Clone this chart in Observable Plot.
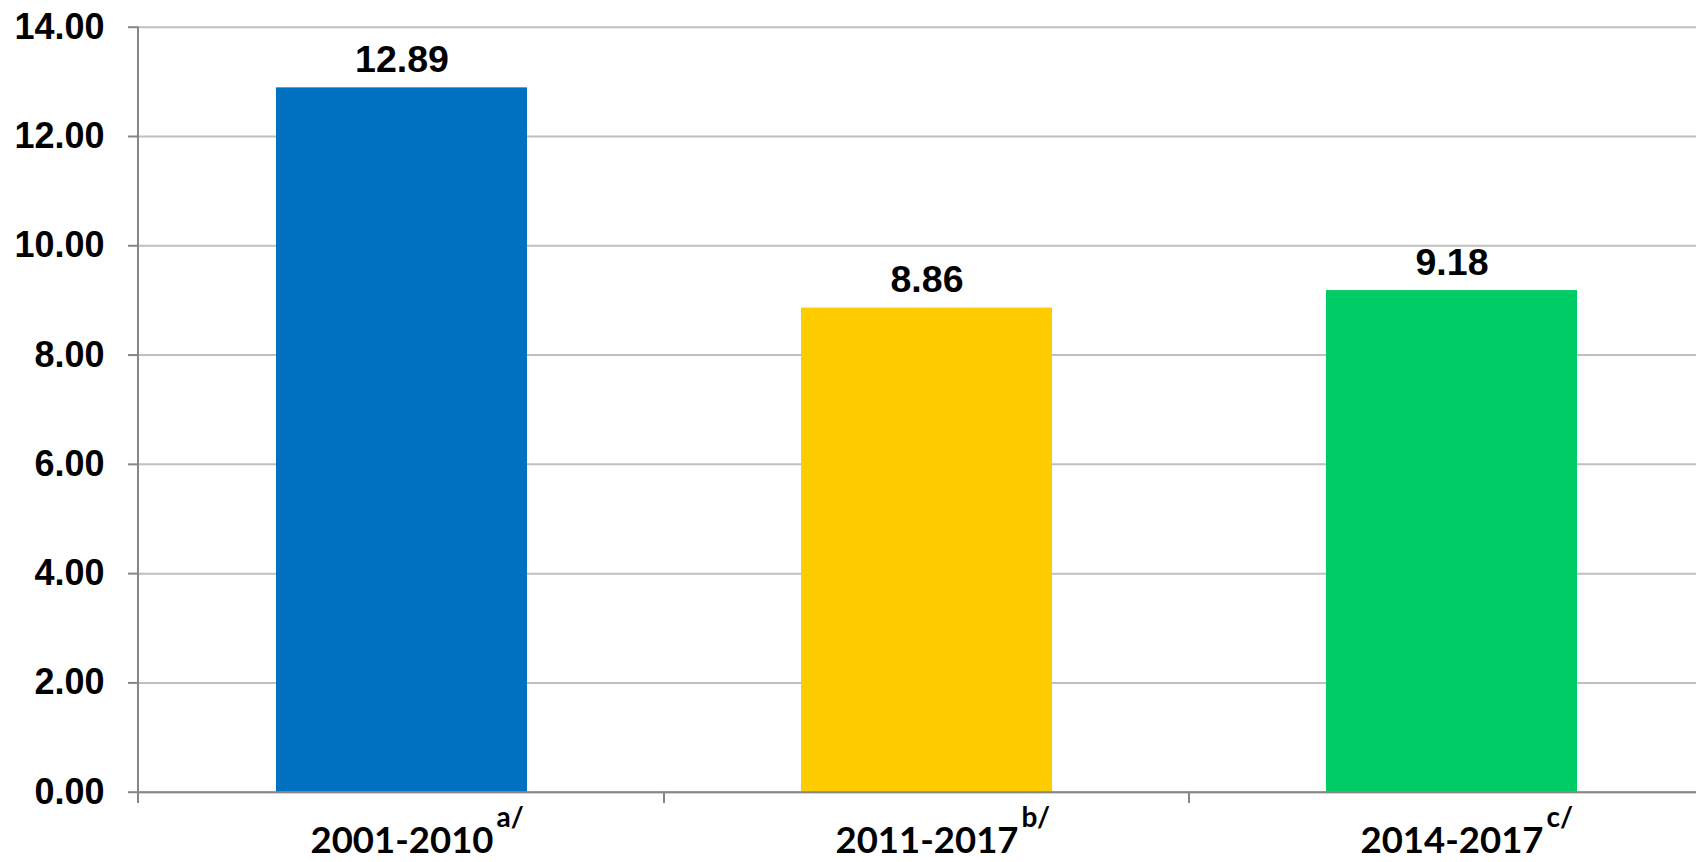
<!DOCTYPE html>
<html><head><meta charset="utf-8">
<script src="https://cdn.jsdelivr.net/npm/d3@7"></script>
<script src="https://cdn.jsdelivr.net/npm/@observablehq/plot@0.6"></script>
<style>
html,body{margin:0;padding:0;background:#fff;overflow:hidden;width:1696px;height:862px}
#chart{width:1696px;height:862px;overflow:hidden}
#chart svg{display:block;max-width:none !important;height:862px !important}
</style></head><body><div id="chart"></div>
<script>
const categories = ["2001-2010", "2011-2017", "2014-2017"];
const notes = ["a/", "b/", "c/"];
const values = [12.89, 8.86, 9.18];
const colors = ["#0070C0", "#FFCC00", "#00CC66"];
const yTicks = [0, 2, 4, 6, 8, 10, 12, 14];

const data = categories.map((c, i) => ({category: c, note: notes[i], value: values[i], color: colors[i]}));

const AX = "#868686";
const plot = Plot.plot({
  width: 1715, height: 862,
  marginLeft: 138, marginRight: 0, marginTop: 26.7, marginBottom: 70.3,
  style: {background: "white", color: "black", overflow: "visible", maxWidth: "none"},
  x: {domain: categories, paddingInner: 0.5225, paddingOuter: 0.26125, axis: null},
  y: {domain: [0, 14], axis: null},
  color: {type: "identity"},
  marks: [
    Plot.gridY(yTicks, {stroke: "#BFBFBF", strokeOpacity: 1, strokeWidth: 2}),
    Plot.barY(data, {x: "category", y: "value", fill: "color"}),
    Plot.ruleY([0], {stroke: AX, strokeWidth: 2}),
    Plot.axisY(yTicks, {tickFormat: d => d.toFixed(2), tickSize: 10, tickPadding: 24, stroke: AX, strokeWidth: 2,
      fill: "black", fontSize: 36, fontWeight: "bold", fontFamily: "Liberation Sans, Arial, sans-serif", label: null}),
    Plot.axisX({tickSize: 0, tickPadding: 35, fill: "black", fontSize: 36.5, fontWeight: "bold",
      fontFamily: "Lato, Open Sans, sans-serif", label: null}),
    Plot.text(data, {x: "category", y: "value", text: d => d.value.toFixed(2), lineAnchor: "bottom", dy: -15.6,
      fill: "black", fontSize: 37.5, fontWeight: "bold", fontFamily: "Liberation Sans, Arial, sans-serif"})
  ]
});
document.getElementById("chart").appendChild(plot);

// axis line and category-boundary ticks from the plot's own scales
const xs = plot.scale("x"), ys = plot.scale("y");
const svg = d3.select(plot);
const y0 = ys.apply(0), yTop = ys.apply(14);
const g = svg.append("g").attr("stroke", AX).attr("stroke-width", 2);
g.append("line").attr("x1", xs.range[0]).attr("x2", xs.range[0]).attr("y1", yTop).attr("y2", y0 + 11.3);
categories.forEach((c, i) => {
  if (i === 0) return;
  const bx = xs.apply(c) + xs.bandwidth / 2 - xs.step / 2;
  g.append("line").attr("x1", bx).attr("x2", bx).attr("y1", y0).attr("y2", y0 + 11.3);
});

// superscript notes on x labels, keeping the main label centred
svg.selectAll('g[aria-label="x-axis tick label"] text').each(function(d, i) {
  const t = d3.select(this);
  const label = t.text();
  const w = this.getComputedTextLength();
  const idx = categories.indexOf(label);
  t.attr("text-anchor", "start").attr("x", -w / 2);
  t.append("tspan").attr("dx", 3).attr("dy", -26).attr("font-size", 28).text(notes[idx]);
});
</script>
</body></html>
